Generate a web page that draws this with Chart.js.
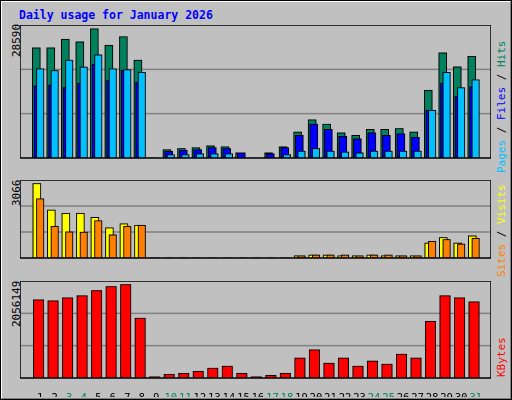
<!DOCTYPE html>
<html><head><meta charset="utf-8">
<script src="https://cdn.jsdelivr.net/npm/chart.js@4"></script>
<style>
html,body{margin:0;padding:0;}
body{width:512px;height:400px;overflow:hidden;background:#fff;}
#wrap{position:absolute;left:0;top:0;width:508px;height:396px;background:#c0c0c0;border:2px solid;border-color:#fff #808080 #808080 #fff;}
#outer{position:absolute;left:0;top:0;width:510px;height:398px;border:1px solid #000;}
canvas{position:absolute;}
.t{position:absolute;font-family:"DejaVu Sans Mono",monospace;font-size:11px;white-space:nowrap;}
.rot{transform-origin:0 0;transform:rotate(-90deg);}
</style></head><body>
<div id="wrap"></div><div id="outer"></div>
<div class="t" style="left:19px;top:8px;color:#0000ff;font-weight:bold;font-size:11.5px;">Daily usage for January 2026</div>
<div class="t rot" style="left:10px;top:57px;">28590</div>
<div class="t rot" style="left:10px;top:206px;">3066</div>
<div class="t rot" style="left:10px;top:327px;">2056149</div>
<div class="t rot" style="left:495px;top:173px;"><span style="color:#00c0ff">Pages</span> / <span style="color:#0000ff">Files</span> / <span style="color:#00805c">Hits</span></div>
<div class="t rot" style="left:495px;top:277px;"><span style="color:#ff8000">Sites</span> / <span style="color:#ffff00">Visits</span></div>
<div class="t rot" style="left:495px;top:377px;"><span style="color:#ff0000">KBytes</span></div>
<canvas id="c1" style="left:20px;top:25px;width:471px;height:152px"></canvas>
<canvas id="c2" style="left:20px;top:180px;width:471px;height:97px"></canvas>
<canvas id="c3" style="left:20px;top:281px;width:471px;height:116px"></canvas>
<script>
const days=[1,2,3,4,5,6,7,8,9,10,11,12,13,14,15,16,17,18,19,20,21,22,23,24,25,26,27,28,29,30,31];
const weekend=[3,4,10,11,17,18,24,25,31];
const hits=[23670,23670,25540,24980,27790,24240,26100,21050,80,1810,2050,2240,2610,2430,1120,80,1120,2430,5610,8230,7290,5420,4860,6170,6170,6360,5610,14580,22610,19610,21870];
const files=[15510,15700,15130,16070,20180,16630,18870,16260,60,1440,1680,1810,2240,2050,1120,60,930,2240,4860,7290,6170,4670,4110,5420,4860,5230,4480,10280,16070,13270,15320];
const pages=[19190,18810,21050,19560,22180,19190,19000,18440,0,740,740,930,930,930,0,0,0,740,1500,2050,1500,1310,1120,1500,1500,1500,1500,10280,18410,15130,16820];
const visits=[2930,1890,1760,1760,1600,1190,1350,1290,15,15,15,15,15,15,15,15,15,15,90,120,120,90,90,120,90,90,90,590,810,590,870];
const sites=[2330,1250,1030,1020,1470,910,1250,1290,15,15,15,15,15,15,15,15,15,15,90,120,120,120,90,120,120,90,90,660,730,550,780];
const kbytes=[1660000,1639000,1703000,1746000,1855000,1941000,1984000,1269000,28000,80000,101000,144000,210000,253000,101000,28000,58000,101000,426000,600000,317000,426000,253000,360000,296000,506000,426000,1205000,1746000,1703000,1616000];
const maxHits=28590, maxVisits=3066, maxKB=2056149;

const frame={id:'frame',
 beforeDatasetsDraw(c){const a=c.chartArea,x=c.ctx,y=c.scales.y;x.save();x.strokeStyle='#808080';x.lineWidth=1.5;
  [1,2].forEach(k=>{const p=y.getPixelForValue(y.max*k/3);x.beginPath();x.moveTo(a.left,p);x.lineTo(a.right,p);x.stroke();});x.restore();},
 afterDraw(c){const a=c.chartArea,x=c.ctx;x.save();x.strokeStyle='#000';x.lineWidth=1.5;x.strokeRect(a.left,a.top,a.right-a.left,a.bottom-a.top);x.restore();}};
function ds(vals,off,color,w,ord){return{data:vals.map((v,i)=>({x:days[i]+off,y:v})),backgroundColor:color,borderColor:'#000',borderWidth:1,borderSkipped:false,barThickness:w,grouped:false,order:ord};}
function opts(max,showX){return{responsive:false,animation:false,devicePixelRatio:2,
 layout:{padding:0},plugins:{legend:{display:false},tooltip:{enabled:false}},
 scales:{x:{type:'linear',min:0.133,max:31.533,display:showX,grid:{display:false},border:{display:false},
   afterBuildTicks:s=>{s.ticks=days.map(v=>({value:v}));},
   afterFit:s=>{s.height=19;},
   ticks:{padding:6,autoSkip:false,maxRotation:0,font:{family:'DejaVu Sans Mono',size:10.5},color:c=>weekend.includes(c.tick&&c.tick.value)?'#00805c':'#000'}},
  y:{min:0,max:max,display:false}}};}
function mk(id,h,datasets,max,showX){const el=document.getElementById(id);el.width=471;el.height=h;
 return new Chart(el,{type:'bar',data:{datasets},options:opts(max,showX),plugins:[frame]});}
mk('c1',152,[ds(hits,-0.267,'#00805c',8,3),ds(files,-0.15,'#0000ff',8,2),ds(pages,0,'#00c0ff',7.5,1)],maxHits,false);
mk('c2',97,[ds(visits,-0.23,'#ffff00',8,2),ds(sites,0,'#ff8000',7.5,1)],maxVisits,false);
mk('c3',116,[ds(kbytes,-0.11,'#ff0000',10.5,1)],maxKB,true);
</script></body></html>
